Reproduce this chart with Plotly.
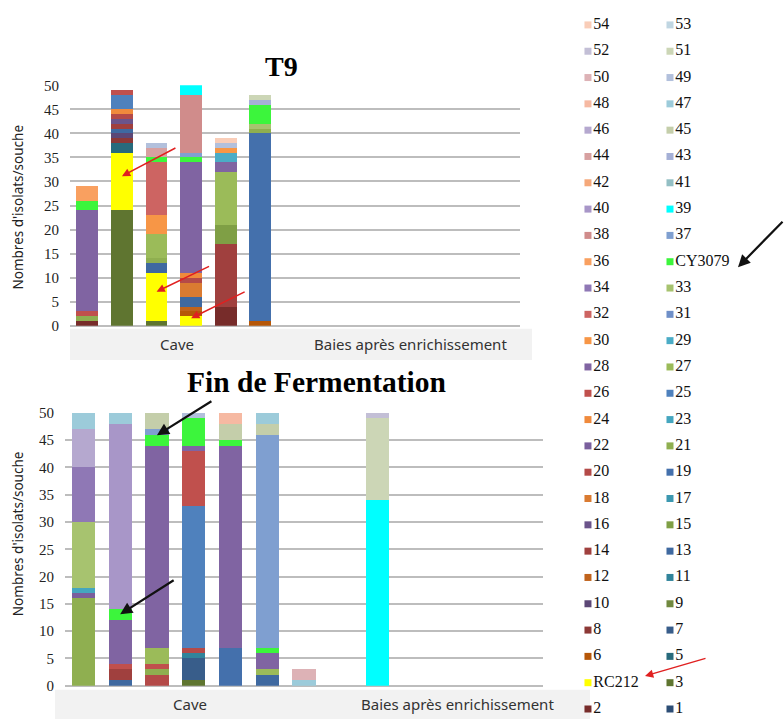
import plotly.graph_objects as go

W, H = 784, 727

# ---- series (strains) -------------------------------------------------------
SERIES = [str(i) for i in range(1, 55)]
SERIES[3] = "RC212"
SERIES[34] = "CY3079"

COLORS = [
    "#2C4D75", "#772C2A", "#5F7530", "#FFFF00", "#276A7C", "#B65708",  # 1-6
    "#385D8A", "#8C3836", "#71893F", "#5C4776", "#31849B", "#C0631C",  # 7-12
    "#3F69A0", "#A0403E", "#7F9F45", "#6B548B", "#3C98B0", "#DA7B31",  # 13-18
    "#4470AC", "#B44A48", "#8FAF50", "#7A5F9D", "#45A6BF", "#F08A3C",  # 19-24
    "#4F81BD", "#C0504D", "#9BBB59", "#8064A2", "#4BACC6", "#F79646",  # 25-30
    "#6F8FC8", "#CD6462", "#A7C36F", "#8F78B5", "#3CF53C", "#F9A060",  # 31-36
    "#7F9FD0", "#D08C8B", "#00FFFF", "#A896C8", "#93BFC4", "#F5A87A",  # 37-42
    "#A5B0D6", "#D7A0A0", "#C4CEAA", "#B5A8CF", "#9CCBDA", "#F6B9A2",  # 43-48
    "#B2C0DC", "#DDB2B6", "#CCD6B6", "#C3BFD6", "#C0D6E2", "#F9CDB8",  # 49-54
]

# ---- T9: isolates per strain, (strain number, count) from bottom to top ------
T9_SLOTS = [1, 2, 3, 4, 5, 6]
T9_BAR1 = [(2, 1), (21, 1), (26, 1), (28, 21), (35, 2), (36, 3)]
T9_BAR2 = [(3, 24), (4, 12), (5, 2), (8, 1), (10, 1), (13, 1), (14, 1),
           (16, 1), (20, 1), (24, 1), (25, 3), (26, 1)]
T9_BAR3 = [(3, 1), (4, 10), (13, 2), (21, 1), (27, 5), (30, 4), (32, 11),
           (35, 1), (44, 2), (49, 1)]
T9_BAR4 = [(4, 2), (6, 1), (12, 1), (13, 2), (18, 3), (20, 1), (24, 1),
           (28, 23), (35, 1), (37, 1), (38, 12), (39, 2)]
T9_BAR5 = [(2, 4), (14, 13), (15, 4), (27, 11), (28, 2), (29, 2), (30, 1),
           (49, 1), (54, 1)]
T9_BAR6 = [(6, 1), (19, 39), (21, 1), (33, 1), (35, 4), (43, 1), (51, 1)]
T9_BARS = [T9_BAR1, T9_BAR2, T9_BAR3, T9_BAR4, T9_BAR5, T9_BAR6]

# ---- Fin de Fermentation ----------------------------------------------------
FIN_SLOTS = [1, 2, 3, 4, 5, 6, 7, 9]
FIN_BAR1 = [(21, 16), (22, 1), (23, 1), (33, 12), (34, 10), (46, 7), (47, 3)]
FIN_BAR2 = [(13, 1), (14, 2), (26, 1), (28, 8), (35, 2), (40, 34), (47, 2)]
FIN_BAR3 = [(20, 2), (21, 1), (26, 1), (27, 3), (28, 37), (35, 2), (37, 1), (45, 3)]
FIN_BAR4 = [(3, 1), (7, 4), (11, 1), (20, 1), (25, 26), (26, 10), (28, 1),
            (35, 5), (49, 1)]
FIN_BAR5 = [(19, 7), (28, 37), (35, 1), (45, 3), (48, 2)]
FIN_BAR6 = [(13, 2), (27, 1), (28, 3), (35, 1), (37, 39), (45, 2), (47, 2)]
FIN_BAR7 = [(47, 1), (50, 2)]
FIN_BAR9 = [(39, 34), (51, 15), (52, 1)]
FIN_BARS = [FIN_BAR1, FIN_BAR2, FIN_BAR3, FIN_BAR4, FIN_BAR5, FIN_BAR6,
            FIN_BAR7, FIN_BAR9]

GROUPS = ["Cave", "Baies après enrichissement"]
Y_TITLE = "Nombres d'isolats/souche"
Y_TICKS = [0, 5, 10, 15, 20, 25, 30, 35, 40, 45, 50]

SERIF = "Liberation Serif"
SANS = "Noto Sans"


def px_x(p):
    return p / W


def px_y(p):
    return 1 - p / H


fig = go.Figure()


def add_panel(slots, bars, xa, ya):
    for s in range(1, 55):
        vals = [dict(bar).get(s, 0) for bar in bars]
        if not any(vals):
            continue
        fig.add_trace(go.Bar(
            x=slots, y=vals, name=SERIES[s - 1], xaxis=xa, yaxis=ya,
            marker=dict(color=COLORS[s - 1], line=dict(width=0)),
            showlegend=False, hovertemplate=SERIES[s - 1] + ": %{y}<extra></extra>",
        ))


add_panel(T9_SLOTS, T9_BARS, "x", "y")
add_panel(FIN_SLOTS, FIN_BARS, "x2", "y2")

# ---- two-column strain key --------------------------------------------------
key_x, key_y, key_txt, key_col = [], [], [], []
for s in range(54, 0, -1):
    key_x.append(0 if s % 2 == 0 else 1)
    key_y.append((54 - s) // 2)
    key_txt.append(SERIES[s - 1])
    key_col.append(COLORS[s - 1])
fig.add_trace(go.Scatter(
    x=key_x, y=key_y, text=key_txt, mode="markers+text",
    textposition="middle right",
    textfont=dict(family=SERIF, size=16, color="#111111"),
    marker=dict(symbol="square", size=7, color=key_col, line=dict(width=0)),
    xaxis="x3", yaxis="y3", showlegend=False, hoverinfo="skip",
))

grid = "#BDBDBD"
yax = dict(range=[0, 50], tickvals=Y_TICKS, showgrid=True, gridcolor=grid,
           gridwidth=1.5, zeroline=True, zerolinecolor=grid, zerolinewidth=1.5,
           ticks="", tickfont=dict(family=SERIF, size=15, color="#222222"),
           ticklabelstandoff=10, fixedrange=True)
xax = dict(range=[0.5, 13.5], showticklabels=False, showgrid=False,
           zeroline=False, ticks="", fixedrange=True)

fig.update_layout(
    width=W, height=H, margin=dict(l=0, r=0, t=0, b=0),
    paper_bgcolor="white", plot_bgcolor="rgba(0,0,0,0)",
    barmode="stack", bargap=0.37,
    xaxis=dict(domain=[px_x(70), px_x(520)], anchor="y", **xax),
    yaxis=dict(domain=[px_y(325), px_y(79)], anchor="x", **yax),
    xaxis2=dict(domain=[px_x(65), px_x(543)], anchor="y2", **xax),
    yaxis2=dict(domain=[px_y(693), px_y(414)], anchor="x2", **yax),
    xaxis3=dict(domain=[px_x(560), 1], anchor="y3", range=[-0.341, 2.39],
                visible=False, fixedrange=True),
    yaxis3=dict(domain=[0, 1], anchor="x3", range=[26.38, -0.643],
                visible=False, fixedrange=True),
    showlegend=False,
)

# grey category bands under the axes
for x0, x1, y0, y1 in [(70, 532, 328, 360), (55, 590, 697, 727)]:
    fig.add_shape(type="rect", xref="paper", yref="paper",
                  x0=px_x(x0), x1=px_x(x1), y0=px_y(y1), y1=px_y(y0),
                  fillcolor="#F2F2F2", line=dict(width=0), layer="below")


def label(text, cx, cy, font, angle=0):
    return dict(text=text, x=px_x(cx), y=px_y(cy), xref="paper", yref="paper",
                xanchor="center", yanchor="middle", showarrow=False,
                textangle=angle, font=font)


ann = []
ann.append(label("<b>T9</b>", 281, 60, dict(family=SERIF, size=28, color="black")))
ann.append(label("<b>Fin de Fermentation</b>", 316, 382,
                 dict(family=SERIF, size=29.5, color="black")))
for yc in (204, 538):
    ann.append(label(Y_TITLE, 18, yc, dict(family=SANS, size=13.5, color="#222222"), -90))
grp_font = dict(family=SANS, size=15, color="#333333")
for (cx, cy), g in zip([(177, 344), (410, 344)], GROUPS):
    ann.append(label(g, cx, cy, grp_font))
for (cx, cy), g in zip([(190, 712), (458, 712)], GROUPS):
    ann.append(label(g, cx, cy, grp_font))

# arrows pointing to RC212 (red) and CY3079 (black)
RED, BLACK = "#E02020", "#111111"
for xs, yv, ax, ay in [(2, 31.1, 55, -29), (3, 7.1, 54, -26), (4, 1.6, 55, -27)]:
    ann.append(dict(x=xs, y=yv, xref="x", yref="y", ax=ax, ay=ay, text="",
                    showarrow=True, arrowhead=2, arrowsize=1.1, arrowwidth=1.5,
                    arrowcolor=RED))
for xs, yv, ax, ay in [(3, 45.9, 56, -35), (2, 13.1, 55, -35)]:
    ann.append(dict(x=xs, y=yv, xref="x2", yref="y2", ax=ax, ay=ay, text="",
                    showarrow=True, arrowhead=2, arrowsize=1.1, arrowwidth=2.2,
                    arrowcolor=BLACK))
ann.append(dict(x=px_x(645), y=px_y(683), xref="paper", yref="paper", ax=62,
                ay=-18, text="", showarrow=True, arrowhead=2, arrowsize=1.1,
                arrowwidth=1.5, arrowcolor=RED))
ann.append(dict(x=px_x(738), y=px_y(265), xref="paper", yref="paper", ax=52,
                ay=-47, text="", showarrow=True, arrowhead=2, arrowsize=1.1,
                arrowwidth=2.2, arrowcolor=BLACK))

fig.update_layout(annotations=ann)
fig.write_html("out.html")
